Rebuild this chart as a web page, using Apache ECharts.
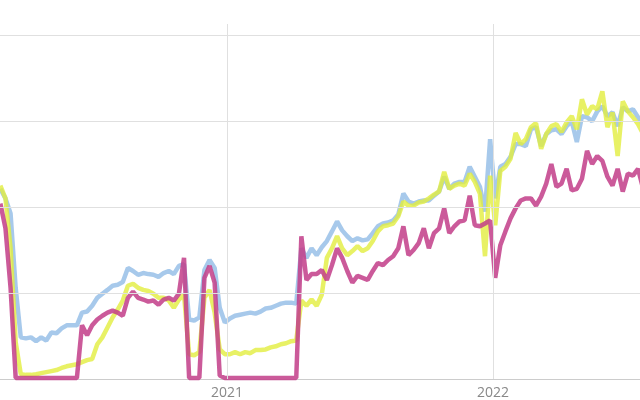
<!DOCTYPE html>
<html>
<head>
<meta charset="utf-8">
<script src="https://cdn.jsdelivr.net/npm/echarts@6/dist/echarts.min.js"></script>
<style>
html,body{margin:0;padding:0;background:#fff;}
#chart{width:640px;height:400px;}
</style>
</head>
<body>
<div id="chart"></div>
<script>
// weekly observations, first week starting 2020-02-25
var startDate = [2020, 1, 25];
var blueSeries = [55.3,52.5,48.1,26.5,12.1,11.8,12.1,11.0,12.1,11.2,13.5,13.3,14.7,15.6,15.6,15.6,19.3,19.6,21.3,23.6,24.8,25.9,27.1,27.4,28.2,32.3,31.4,30.3,30.8,30.5,30.3,29.7,30.8,31.4,30.5,32.9,33.4,17.3,17.0,17.9,31.7,34.6,32.3,20.7,16.4,17.6,18.4,18.7,19.0,19.3,19.0,19.6,20.5,20.7,21.3,21.9,22.2,22.2,21.9,38.0,35.2,38.0,36.0,38.3,40.1,42.9,45.8,43.2,41.5,40.1,40.9,40.3,40.6,42.4,44.4,45.2,45.5,46.1,47.8,53.9,51.6,51.0,51.6,51.9,51.9,53.3,54.5,58.8,55.3,56.8,57.3,57.3,61.7,58.8,55.9,48.7,69.7,52.5,61.7,62.5,64.6,68.3,68.3,67.7,72.6,73.2,67.7,71.2,72.3,72.6,71.2,73.5,74.9,68.9,76.4,76.1,74.9,77.8,79.3,76.4,77.5,73.5,79.0,77.8,78.4,76.1,74.1];
var yellowSeries = [56.2,52.5,38.0,10.7,1.4,1.2,1.2,1.4,1.7,2.0,2.3,2.6,3.2,3.7,4.0,4.3,4.9,5.5,5.8,10.1,12.1,15.0,17.9,20.2,22.8,27.1,27.7,26.5,25.9,25.6,24.8,23.6,23.6,22.8,20.7,23.1,24.5,7.2,6.9,7.8,23.6,25.9,19.3,8.6,7.2,7.2,7.8,7.2,7.8,7.5,8.4,8.4,8.6,9.2,9.5,10.1,10.4,11.0,11.2,22.8,21.3,23.1,21.3,24.5,35.2,38.0,41.5,38.0,36.0,37.2,38.6,37.2,38.0,40.1,42.9,44.4,44.7,45.2,47.3,51.6,50.4,50.4,51.3,51.6,52.5,53.6,54.5,60.2,55.3,56.2,56.8,56.2,59.7,57.3,53.9,35.7,59.1,44.7,60.5,61.7,64.0,71.5,68.3,69.7,73.2,74.4,66.9,71.2,73.5,74.1,71.8,74.6,76.4,72.6,81.3,76.9,79.3,78.4,83.6,73.2,77.5,64.8,80.7,77.8,76.1,74.1,71.2];
var magentaSeries = [51.0,43.8,26.5,0.3,0.3,0.3,0.3,0.3,0.3,0.3,0.3,0.3,0.3,0.3,0.3,0.3,15.6,12.7,15.6,17.3,18.4,19.3,19.9,19.3,18.4,23.6,25.4,23.6,23.1,22.5,22.8,21.6,23.1,23.6,22.8,24.8,35.2,0.3,0.3,0.3,29.4,32.9,28.0,1.0,0.3,0.3,0.3,0.3,0.3,0.3,0.3,0.3,0.3,0.3,0.3,0.3,0.3,0.3,0.3,41.5,28.8,30.5,30.5,31.7,28.8,33.1,38.0,35.2,31.4,28.0,30.0,29.4,28.8,31.4,33.7,33.1,34.6,35.7,38.0,44.4,36.0,37.5,39.5,43.8,38.0,42.4,43.8,49.6,42.4,44.4,45.8,46.1,53.3,44.7,44.4,45.2,46.1,29.4,38.9,42.9,46.7,49.6,51.9,52.5,52.5,50.4,53.0,56.8,62.5,55.9,56.8,61.1,54.8,55.3,58.2,66.3,62.5,64.8,63.4,58.8,56.2,61.1,54.5,59.7,59.1,61.1,55.3];
var gridValues = [25, 50, 75, 100];
var yearMarks = [[2021, 0, 1], [2022, 0, 1]];

var t0 = new Date(startDate[0], startDate[1], startDate[2]).getTime();
var WEEK = 7 * 24 * 3600 * 1000;
function pairs(arr) { return arr.map(function (v, i) { return [t0 + i * WEEK, v]; }); }

var chart = echarts.init(document.getElementById('chart'), null, {renderer: 'canvas'});
var markData = gridValues.map(function (v) { return {yAxis: v}; })
  .concat(yearMarks.map(function (d) { return {xAxis: new Date(d[0], d[1], d[2]).getTime()}; }));

chart.setOption({
  animation: false,
  backgroundColor: '#ffffff',
  grid: {left: 0, right: 0, top: 24, bottom: 18, containLabel: false},
  xAxis: {
    type: 'time',
    min: new Date(2020, 1, 24, 12).getTime(),
    max: new Date(2022, 6, 21, 16).getTime(),
    axisLine: {show: true, lineStyle: {color: '#cccccc', width: 1}},
    axisTick: {show: false},
    splitLine: {show: false},
    axisLabel: {
      color: '#888888', fontSize: 14, fontFamily: 'Open Sans', margin: 7,
      hideOverlap: false,
      formatter: function (value) {
        var d = new Date(value);
        return (d.getMonth() === 0 && d.getDate() === 1) ? String(d.getFullYear()) : '';
      }
    }
  },
  yAxis: {
    type: 'value', min: 0, max: 103.2,
    axisLine: {show: false}, axisTick: {show: false}, axisLabel: {show: false},
    splitLine: {show: false}
  },
  series: [
    {
      name: 'grid', type: 'line', data: [], z: 1, silent: true,
      markLine: {
        silent: true, symbol: ['none', 'none'], label: {show: false},
        lineStyle: {color: '#e0e0e0', width: 1, type: 'solid'},
        data: markData
      }
    },
    {name: 'Blue', type: 'line', data: pairs(blueSeries), showSymbol: false,
     lineStyle: {color: '#98c0e8', width: 4.5, opacity: 0.85}, itemStyle: {color: '#98c0e8'}, z: 2},
    {name: 'Yellow', type: 'line', data: pairs(yellowSeries), showSymbol: false,
     lineStyle: {color: '#e2ee3e', width: 4.5, opacity: 0.8}, itemStyle: {color: '#e2ee3e'}, z: 3},
    {name: 'Magenta', type: 'line', data: pairs(magentaSeries), showSymbol: false,
     lineStyle: {color: '#c23d88', width: 4.5, opacity: 0.85}, itemStyle: {color: '#c23d88'}, z: 4}
  ]
});
</script>
</body>
</html>
